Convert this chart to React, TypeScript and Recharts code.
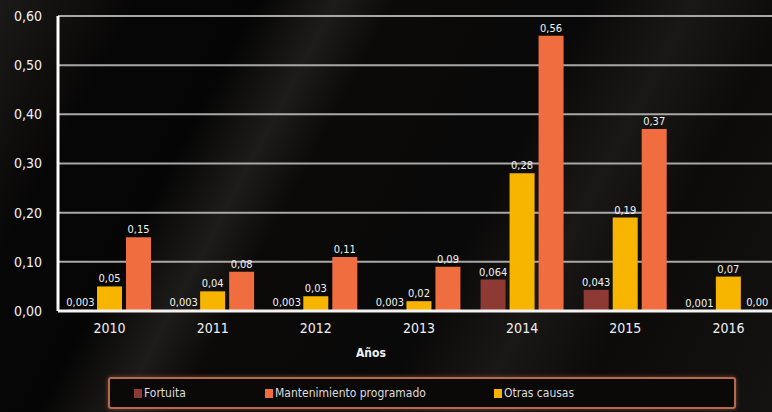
import { BarChart, Bar, XAxis, YAxis, CartesianGrid, LabelList } from 'recharts';

const years = ['2010', '2011', '2012', '2013', '2014', '2015', '2016'];
const fortuita = [0.003, 0.003, 0.003, 0.003, 0.064, 0.043, 0.001];
const otrasCausas = [0.05, 0.04, 0.03, 0.02, 0.28, 0.19, 0.07];
const mantenimiento = [0.15, 0.08, 0.11, 0.09, 0.56, 0.37, 0.0];
const yTicks = [0, 0.1, 0.2, 0.3, 0.4, 0.5, 0.6];

const COLORS = {
  fortuita: '#8e3a34',
  mantenimiento: '#f06d3f',
  otras: '#f7b500',
};

const legendItems = [
  { name: 'Fortuita', color: COLORS.fortuita, left: 134 },
  { name: 'Mantenimiento programado', color: COLORS.mantenimiento, left: 265 },
  { name: 'Otras causas', color: COLORS.otras, left: 494 },
];

const data = years.map((year, i) => ({
  year,
  fortuita: fortuita[i],
  otras: otrasCausas[i],
  mantenimiento: mantenimiento[i],
}));

const FONT = '"DejaVu Sans Condensed", "Liberation Sans Narrow", "Roboto", sans-serif';

const fmt = (digits: number) => (v: any) => Number(v).toFixed(digits).replace('.', ',');

export default function App() {
  return (
    <div
      style={{
        position: 'relative',
        width: 772,
        height: 412,
        overflow: 'hidden',
        fontFamily: FONT,
        background:
          'linear-gradient(118deg, #1c1a18 0%, #070606 14%, #050505 26%, #1e1c1a 34%, #0b0a09 40%, #0a0909 60%, #1a1816 70%, #0c0b0a 80%, #141312 100%)',
      }}
    >
      <style>{'body{margin:0}'}</style>
      <BarChart
        width={780}
        height={412}
        data={data}
        margin={{ top: 16, right: 0, bottom: 71, left: 0 }}
        barGap={4}
        barSize={25}
      >
        <CartesianGrid vertical={false} stroke="#a8a8a8" strokeWidth={2} />
        <XAxis
          dataKey="year"
          height={30}
          tickLine={false}
          axisLine={{ stroke: '#f2f2f2', strokeWidth: 3 }}
          tick={{ fill: '#f0f0f0', fontSize: 14, fontFamily: FONT }}
          tickMargin={6}
        />
        <YAxis
          width={58}
          domain={[0, 0.6]}
          ticks={yTicks}
          tickFormatter={fmt(2)}
          tickLine={false}
          axisLine={{ stroke: '#ffffff', strokeWidth: 3 }}
          tick={{ fill: '#f0f0f0', fontSize: 14, fontFamily: FONT }}
          tickMargin={10}
        />
        <Bar dataKey="fortuita" fill={COLORS.fortuita} isAnimationActive={false}>
          <LabelList
            dataKey="fortuita"
            position="top"
            offset={4}
            formatter={fmt(3)}
            style={{ fill: '#f2f2f2', fontSize: 11, fontFamily: FONT }}
          />
        </Bar>
        <Bar dataKey="otras" fill={COLORS.otras} isAnimationActive={false}>
          <LabelList
            dataKey="otras"
            position="top"
            offset={4}
            formatter={fmt(2)}
            style={{ fill: '#f2f2f2', fontSize: 11, fontFamily: FONT }}
          />
        </Bar>
        <Bar
          dataKey="mantenimiento"
          fill={COLORS.mantenimiento}
          minPointSize={1}
          isAnimationActive={false}
        >
          <LabelList
            dataKey="mantenimiento"
            position="top"
            offset={4}
            formatter={fmt(2)}
            style={{ fill: '#f2f2f2', fontSize: 11, fontFamily: FONT }}
          />
        </Bar>
      </BarChart>

      <div
        style={{
          position: 'absolute',
          left: 356,
          top: 346,
          color: '#f0f0f0',
          fontSize: 12,
          fontWeight: 'bold',
        }}
      >
        Años
      </div>

      <div
        style={{
          position: 'absolute',
          left: 108,
          top: 377,
          width: 624,
          height: 28,
          border: '2px solid #b56a4c',
          borderRadius: 3,
          background: '#0b0908',
          boxShadow: '0 0 4px #7a4634',
        }}
      >
        {legendItems.map((item) => (
          <div
            key={item.name}
            style={{
              position: 'absolute',
              left: item.left - 110,
              top: 7,
              display: 'flex',
              alignItems: 'center',
              color: '#dcdcdc',
              fontSize: 12,
            }}
          >
            <span
              style={{
                display: 'inline-block',
                width: 8,
                height: 9,
                background: item.color,
                marginRight: 2,
              }}
            />
            {item.name}
          </div>
        ))}
      </div>
    </div>
  );
}
